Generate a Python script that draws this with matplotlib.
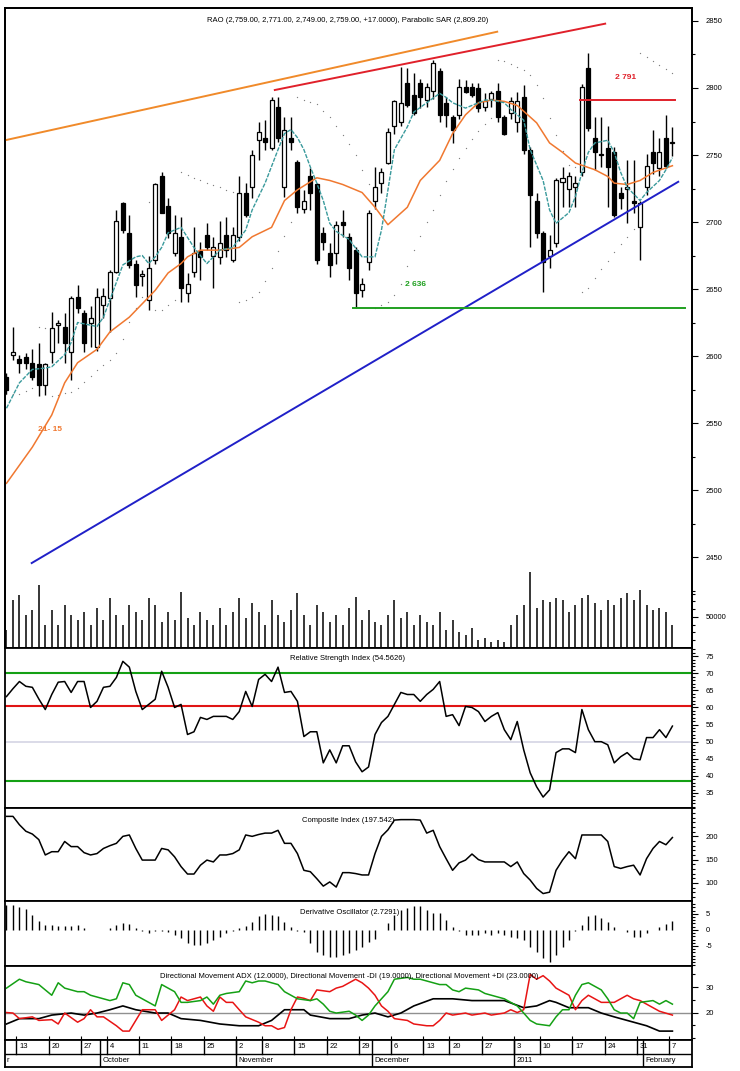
import numpy as np
import pandas as pd
import matplotlib
matplotlib.use("Agg")
import matplotlib.pyplot as plt
from matplotlib.ticker import FixedLocator, FuncFormatter

plt.rcParams['font.family'] = ['Liberation Sans Narrow', 'Liberation Sans', 'DejaVu Sans']

# ---------------- data ----------------
opens = [2584, 2601, 2598, 2599, 2595, 2594, 2578, 2603, 2623, 2622,
         2603, 2644, 2632, 2625, 2607, 2638, 2643, 2663, 2714, 2692,
         2669, 2660, 2642, 2672, 2734, 2712, 2677, 2689, 2647, 2663,
         2678, 2690, 2675, 2674, 2690, 2672, 2689, 2722, 2726, 2761,
         2763, 2755, 2786, 2726, 2763, 2745, 2710, 2734, 2728, 2692,
         2677, 2677, 2700, 2689, 2679, 2649, 2670, 2716, 2729, 2744,
         2772, 2775, 2804, 2795, 2804, 2791, 2798, 2813, 2789, 2778,
         2780, 2801, 2801, 2800, 2786, 2792, 2798, 2778, 2781, 2775,
         2793, 2754, 2716, 2692, 2675, 2684, 2730, 2725, 2726, 2737,
         2815, 2763, 2751, 2755, 2752, 2722, 2725, 2716, 2696, 2726,
         2752, 2740, 2763, 2759]
highs = [2587, 2622, 2601, 2602, 2605, 2610, 2595, 2633, 2627, 2632,
         2645, 2653, 2634, 2637, 2651, 2651, 2664, 2709, 2715, 2705,
         2672, 2664, 2675, 2729, 2737, 2718, 2705, 2704, 2662, 2696,
         2685, 2699, 2689, 2701, 2704, 2696, 2734, 2729, 2754, 2775,
         2776, 2793, 2793, 2778, 2778, 2746, 2724, 2740, 2729, 2696,
         2684, 2701, 2709, 2692, 2681, 2658, 2709, 2741, 2740, 2770,
         2791, 2816, 2815, 2811, 2807, 2804, 2821, 2815, 2793, 2780,
         2807, 2806, 2804, 2804, 2796, 2798, 2804, 2780, 2793, 2797,
         2802, 2756, 2722, 2693, 2690, 2733, 2741, 2737, 2734, 2803,
         2826, 2778, 2778, 2772, 2756, 2726, 2746, 2746, 2716, 2751,
         2769, 2763, 2780, 2771]
lows = [2572, 2597, 2587, 2590, 2582, 2570, 2571, 2595, 2610, 2595,
        2582, 2632, 2603, 2607, 2604, 2628, 2618, 2662, 2692, 2666,
        2644, 2652, 2634, 2669, 2707, 2688, 2675, 2640, 2640, 2659,
        2657, 2679, 2651, 2669, 2674, 2670, 2686, 2704, 2718, 2746,
        2754, 2754, 2760, 2719, 2754, 2707, 2707, 2709, 2669, 2679,
        2659, 2669, 2689, 2657, 2636, 2644, 2664, 2710, 2722, 2743,
        2766, 2772, 2786, 2780, 2785, 2786, 2792, 2775, 2771, 2759,
        2777, 2796, 2793, 2782, 2783, 2786, 2775, 2765, 2777, 2767,
        2751, 2681, 2688, 2648, 2666, 2681, 2711, 2711, 2711, 2734,
        2768, 2739, 2741, 2711, 2704, 2710, 2699, 2707, 2672, 2720,
        2736, 2734, 2740, 2749]
closes = [2575, 2603, 2595, 2595, 2584, 2578, 2594, 2621, 2625, 2610,
          2643, 2636, 2610, 2628, 2644, 2645, 2663, 2701, 2694, 2668,
          2653, 2661, 2666, 2728, 2707, 2692, 2692, 2651, 2654, 2677,
          2674, 2681, 2681, 2684, 2679, 2690, 2722, 2705, 2750, 2767,
          2760, 2791, 2763, 2769, 2760, 2711, 2716, 2722, 2672, 2685,
          2668, 2698, 2698, 2666, 2647, 2654, 2707, 2726, 2737, 2767,
          2790, 2789, 2787, 2781, 2793, 2801, 2819, 2780, 2780, 2769,
          2801, 2797, 2795, 2785, 2790, 2796, 2778, 2766, 2790, 2790,
          2754, 2720, 2692, 2670, 2679, 2731, 2733, 2734, 2729, 2801,
          2770, 2752, 2750, 2741, 2705, 2718, 2726, 2714, 2714, 2742,
          2744, 2752, 2742, 2759]
volume_k = [29, 77, 85, 53, 61, 102, 37, 61, 37, 69,
            53, 45, 58, 37, 65, 45, 81, 53, 37, 69,
            58, 45, 81, 69, 42, 58, 45, 90, 48, 37,
            58, 45, 37, 65, 37, 58, 81, 48, 73, 58,
            37, 77, 53, 42, 61, 89, 53, 37, 69, 58,
            42, 53, 37, 65, 82, 45, 61, 42, 37, 53,
            77, 48, 58, 37, 53, 42, 37, 58, 29, 45,
            26, 21, 32, 13, 16, 10, 13, 10, 37, 53,
            69, 123, 65, 77, 74, 81, 77, 58, 69, 81,
            85, 73, 61, 77, 69, 81, 89, 77, 94, 69,
            61, 65, 58, 37]

# moving averages (day, value)
ma_long_day = [0, 4, 7, 9, 11, 14, 16, 19, 21, 23, 25, 27, 28, 30, 33, 36, 38, 41, 43, 45,
               47, 48, 50, 52, 55, 57, 59, 62, 64, 67, 69, 71, 73, 75, 77, 79, 82, 84, 86, 88,
               91, 93, 94, 96, 98, 100, 103]
ma_long = [2505, 2532, 2556, 2580, 2595, 2605, 2618, 2629, 2639, 2649, 2662, 2669, 2674, 2679,
           2679, 2681, 2689, 2696, 2716, 2724, 2730, 2733, 2731, 2728, 2722, 2711, 2698, 2711,
           2731, 2746, 2766, 2780, 2789, 2791, 2790, 2787, 2774, 2759, 2752, 2744, 2739, 2734,
           2729, 2728, 2731, 2737, 2742]
ma_short_day = [0, 2, 4, 6, 7, 9, 10, 11, 13, 14, 15, 16, 17, 18, 20, 21, 22, 23, 24, 25,
                27, 29, 31, 33, 35, 37, 38, 40, 42, 43, 44, 45, 46, 47, 48, 49, 50, 51, 53, 55,
                57, 58, 59, 60, 62, 63, 65, 67, 68, 69, 71, 72, 74, 75, 77, 78, 80, 81, 83, 84,
                85, 87, 88, 89, 90, 91, 93, 94, 95, 96, 98, 99, 101, 102, 103]
ma_short = [2561, 2580, 2590, 2591, 2592, 2601, 2610, 2625, 2623, 2622, 2629, 2642, 2655, 2668,
            2674, 2675, 2669, 2674, 2681, 2692, 2696, 2681, 2669, 2679, 2681, 2694, 2709, 2729,
            2754, 2766, 2769, 2763, 2754, 2741, 2729, 2716, 2699, 2693, 2687, 2674, 2674, 2694,
            2724, 2754, 2771, 2782, 2789, 2796, 2793, 2789, 2785, 2787, 2791, 2791, 2789, 2784,
            2776, 2754, 2731, 2709, 2699, 2707, 2719, 2737, 2752, 2759, 2761, 2752, 2737, 2726,
            2716, 2722, 2731, 2739, 2748]

# trend lines drawn on the chart: (day, price)
orange_trend = [(-0.23, 2761), (75.9, 2842)]
red_trend = [(41.5, 2798.5), (92.6, 2848)]
blue_trend = [(3.9, 2445.5), (103.9, 2730)]
support_level = 2636
support_span = (53.6, 105.0)
resist_level = 2791
resist_span = (88.7, 103.4)

rsi = [63.2, 65.5, 67.6, 66.2, 65.9, 62.5, 59.4, 63.8, 67.4, 67.6,
       64.4, 67.6, 67.6, 60.0, 61.8, 65.9, 66.2, 68.8, 73.5, 71.8,
       64.7, 59.4, 60.9, 62.4, 70.6, 65.9, 60.0, 60.9, 52.1, 52.9,
       57.1, 56.5, 57.4, 57.4, 57.4, 56.5, 58.8, 64.7, 60.3, 68.2,
       69.7, 67.6, 71.8, 64.4, 64.7, 61.8, 51.5, 52.9, 52.9, 43.8,
       47.6, 43.8, 48.8, 48.8, 44.1, 41.2, 42.6, 52.1, 55.6, 57.4,
       60.9, 64.4, 63.8, 63.8, 61.8, 63.8, 65.3, 67.6, 57.4, 57.9,
       54.7, 60.3, 60.0, 58.8, 55.9, 57.4, 58.5, 53.5, 50.6, 55.9,
       47.6, 40.9, 36.8, 33.8, 35.9, 46.8, 47.9, 47.9, 46.8, 59.4,
       53.5, 50.0, 50.0, 49.1, 43.8, 45.6, 46.8, 45.0, 44.7, 51.2,
       51.2, 53.5, 51.2, 54.56]
rsi_levels = {'upper': 70, 'mid': 60.5, 'center': 50, 'lower': 38.5}

composite = [243, 243, 225, 211, 205, 193, 160, 167, 167, 189,
             178, 178, 165, 160, 163, 174, 180, 185, 200, 203,
             174, 149, 149, 149, 174, 171, 156, 135, 119, 119,
             138, 149, 145, 160, 160, 163, 171, 203, 200, 204,
             207, 207, 213, 185, 185, 163, 127, 124, 109, 93,
             102, 91, 122, 122, 120, 117, 117, 163, 200, 214,
             235, 236, 236, 236, 235, 207, 213, 178, 152, 127,
             143, 149, 162, 150, 145, 145, 145, 145, 135, 145,
             120, 106, 88, 77, 80, 127, 149, 167, 152, 203,
             203, 203, 203, 189, 135, 131, 135, 138, 117, 152,
             174, 189, 182, 197.5]

deriv_osc = [7.8, 7.8, 7.1, 6.5, 4.7, 2.9, 1.6, 1.6, 1.25, 1.25,
             1.25, 1.6, 0.5, 0, 0, 0, 0.5, 1.6, 2.3, 1.9,
             0.5, -0.2, -1.0, -0.3, -0.3, -0.8, -1.6, -2.6, -4.2, -4.7,
             -4.7, -4.2, -3.1, -2.1, -1.0, -0.3, 0.5, 1.25, 2.6, 4.2,
             5.0, 4.7, 4.2, 2.6, 1.0, -0.2, -0.8, -4.2, -6.8, -7.8,
             -8.3, -8.3, -7.8, -7.1, -6.3, -5.2, -3.9, -2.9, 0, 2.1,
             4.7, 6.3, 6.8, 7.5, 7.5, 6.3, 5.2, 5.2, 3.1, 1.0,
             -0.2, -1.6, -1.6, -1.6, -1.0, -1.6, -1.0, -1.6, -2.1, -2.6,
             -3.1, -5.2, -6.8, -8.9, -9.9, -7.8, -5.2, -3.1, -0.5, 1.6,
             4.4, 4.7, 3.6, 2.6, 1.0, 0, -0.8, -2.1, -2.1, -1.0,
             0, 1.0, 1.9, 2.73]

plus_di_day = [0, 2, 3, 5, 7, 8, 9, 11, 12, 13, 15, 16, 17, 18, 19, 20, 22, 23, 24, 25,
               26, 27, 28, 30, 31, 32, 33, 34, 36, 37, 38, 39, 40, 42, 43, 44, 45, 47, 48, 49,
               50, 51, 53, 54, 55, 56, 57, 58, 59, 60, 62, 63, 64, 65, 66, 67, 68, 69, 70, 71,
               73, 74, 75, 77, 78, 79, 80, 81, 82, 84, 85, 86, 87, 88, 89, 90, 91, 92, 93, 94,
               95, 96, 97, 98, 100, 101, 102, 103]
plus_di = [29.6, 33.1, 32.1, 31, 26.8, 31.7, 29.6, 28.2, 28.2, 26.8, 25.4, 24.7, 25.4, 31.7,
           31, 26.8, 24, 22.6, 31, 29.6, 28.2, 24, 24, 24.7, 26.1, 23.3, 26.8, 27.5, 28.2,
           32.4, 31.7, 32.4, 32.4, 31, 28.2, 26.8, 25.4, 24.7, 25.4, 23.3, 20.5, 19.8, 20.5,
           19, 16.9, 19, 22.6, 25.4, 28.2, 33.1, 33.8, 33.1, 33.1, 32.4, 31.7, 31, 31, 28.9,
           28.2, 29.6, 28.9, 27.5, 26.8, 25.4, 24, 22.6, 19.8, 16.9, 15.5, 14.8, 18.3, 21.1,
           21.1, 26.8, 31, 31.7, 30.3, 28.9, 25.4, 21.1, 19.8, 19.8, 17.6, 24, 24.7, 23.3,
           24.7, 23.3]
minus_di_day = [0, 1, 2, 4, 5, 7, 8, 9, 11, 12, 13, 14, 15, 17, 18, 19, 20, 21, 23, 24,
                25, 26, 27, 28, 30, 31, 32, 33, 34, 35, 36, 37, 39, 40, 41, 42, 43, 44, 45, 46,
                47, 48, 50, 51, 52, 54, 55, 56, 57, 58, 59, 60, 62, 63, 65, 66, 67, 68, 69, 71,
                72, 74, 75, 77, 78, 79, 80, 81, 82, 83, 84, 85, 86, 87, 88, 89, 90, 91, 92, 93,
                94, 96, 97, 98, 99, 100, 101, 103]
minus_di = [20, 19.8, 17.6, 18.3, 16.9, 17.2, 15.5, 19.8, 16.2, 17.6, 21.1, 18.3, 18.3, 14.8,
            12.7, 12.7, 16.9, 21.1, 21.1, 16.9, 19, 21.1, 26.1, 24.7, 26.1, 22.6, 20.5, 26.1,
            24, 24, 21.1, 18.3, 16.2, 14.8, 14.8, 13.4, 14.1, 21.1, 26.1, 25.6, 24.7, 28.9,
            28.2, 29.6, 30.3, 33.1, 31.7, 29.6, 26.8, 22.6, 20.5, 17.6, 16.9, 15.5, 14.8, 14.8,
            16.9, 19.8, 19, 19.8, 19, 19.8, 19, 19.8, 21.1, 20, 21.1, 35, 33.1, 34.5, 32.4,
            29.6, 28.2, 26.8, 21.1, 24.7, 26.8, 25.4, 24, 24, 24, 26.8, 25.4, 24.7, 23.3, 21.9,
            20.5, 19]
adx_day = [0, 2, 5, 7, 10, 12, 14, 16, 18, 20, 23, 25, 27, 30, 33, 36, 39, 41, 43, 46,
           47, 50, 53, 55, 57, 59, 61, 63, 66, 69, 72, 77, 80, 82, 84, 85, 87, 90, 92, 94,
           97, 99, 101, 103]
adx = [15.5, 17.6, 17.6, 19, 19.8, 19, 19.8, 21.1, 22.6, 21.1, 19.8, 19.8, 17.6, 16.9, 15.5,
       14.8, 14.8, 16.9, 21.1, 21.1, 19, 17.6, 17.6, 19, 19.8, 18.3, 19.8, 22.6, 25.4, 25.4,
       24.7, 24.7, 21.9, 22.6, 24.7, 24, 21.9, 21.9, 19.8, 18.3, 16.2, 14.8, 12.7, 12.7]

holidays = ['2010-09-30', '2010-11-01', '2010-12-16', '2011-01-07']
dates = pd.bdate_range('2010-09-09', '2011-02-07')
dates = dates[~dates.isin(pd.to_datetime(holidays))]


def parabolic_sar(hi, lo, step=0.02, amax=0.2):
    n = len(hi)
    sar = np.zeros(n)
    up, af, ep = True, step, hi[0]
    sar[0] = lo[0]
    for i in range(1, n):
        s = sar[i - 1] + af * (ep - sar[i - 1])
        if up:
            s = min(s, lo[i - 1], lo[max(i - 2, 0)])
            if lo[i] < s:
                up, s, ep, af = False, ep, lo[i], step
            elif hi[i] > ep:
                ep, af = hi[i], min(af + step, amax)
        else:
            s = max(s, hi[i - 1], hi[max(i - 2, 0)])
            if hi[i] > s:
                up, s, ep, af = True, ep, hi[i], step
            elif lo[i] < ep:
                ep, af = lo[i], min(af + step, amax)
        sar[i] = s
    return sar


# ---------------- layout ----------------
W, H = 740, 1071
fig = plt.figure(figsize=(W / 100, H / 100), dpi=100)
xl = (-0.23, 106.03)
X0, X1 = 5, 692
FS = 5.5


def rect(y0, y1):
    return [X0 / W, 1 - y1 / H, (X1 - X0) / W, (y1 - y0) / H]


def right_axis(a, major, minor):
    a.set_xlim(xl)
    a.yaxis.tick_right()
    a.yaxis.set_label_position('right')
    a.yaxis.set_major_locator(FixedLocator(list(major)))
    a.yaxis.set_minor_locator(FixedLocator(list(minor)))
    a.yaxis.set_major_formatter(FuncFormatter(lambda v, p: f"{v:.0f}"))
    a.tick_params(axis='y', which='both', left=False, labelleft=False,
                  right=True, labelright=True)
    a.tick_params(axis='y', which='major', direction='out', length=4, width=0.8,
                  labelsize=FS, pad=6)
    a.tick_params(axis='y', which='minor', direction='out', length=2.5, width=0.8)
    a.tick_params(axis='x', which='both', bottom=False, top=False, labelbottom=False)
    for s in a.spines.values():
        s.set_linewidth(1.3)


def ftext(px, py, s, **kw):
    fig.text(px / W, 1 - py / H, s, fontsize=FS, ha='center', va='center', **kw)


n = len(closes)
idx = np.arange(n)
o, h, l, c = map(np.array, (opens, highs, lows, closes))

# ---- price panel (volume shares it on a twin scale) ----
ax = fig.add_axes(rect(8, 648))
axv = ax.twinx()
ax.set_ylim(2382.1, 2859.7)
right_axis(ax, range(2450, 2851, 50), range(2425, 2851, 25))
axv.set_ylim(0, 640 / 31 * 50000)
right_axis(axv, [50000], [12500, 25000, 37500, 62500, 75000, 87500])
axv.vlines(idx, 0, np.array(volume_k) * 1000, color='black', lw=1.1)

ax.vlines(idx, l, h, color='black', lw=1.0, zorder=3)
up = c >= o
body = np.maximum(np.abs(c - o), 0.8)
ax.bar(idx[up], body[up], bottom=np.minimum(o, c)[up], width=0.62,
       facecolor='white', edgecolor='black', lw=0.9, zorder=4)
ax.bar(idx[~up], body[~up], bottom=np.minimum(o, c)[~up], width=0.62,
       facecolor='black', edgecolor='black', lw=0.9, zorder=4)

ax.plot(ma_long_day, ma_long, color='#f07830', lw=1.1, zorder=5)
ax.plot(ma_short_day, ma_short, color='#3a9a9c', lw=1.0, ls=(0, (3, 1)), zorder=5)

sar = parabolic_sar(h, l)
ax.scatter(idx, sar, s=0.9, color='#808080', zorder=2, linewidths=0)

for line, col in ((orange_trend, '#f08a2a'), (red_trend, '#e0202a'), (blue_trend, '#2020c8')):
    ax.plot([line[0][0], line[1][0]], [line[0][1], line[1][1]], color=col, lw=1.4, zorder=6)
ax.plot(support_span, [support_level] * 2, color='#20a020', lw=1.4, zorder=6)
ax.plot(resist_span, [resist_level] * 2, color='#e0202a', lw=1.4, zorder=6)
ax.text(63.3, 2653, '2 636', color='#20a020', fontsize=6, ha='center', va='center', weight='bold')
ax.text(95.7, 2807.5, '2 791', color='#e0202a', fontsize=6, ha='center', va='center', weight='bold')
ax.text(6.7, 2545, '21- 15', color='#f07830', fontsize=6, ha='center', va='center', weight='bold')

ftext(348, 20, 'RAO (2,759.00, 2,771.00, 2,749.00, 2,759.00, +17.0000), Parabolic SAR (2,809.20)')

# ---- RSI ----
ar = fig.add_axes(rect(648, 808))
ar.set_ylim(30.6, 77.4)
right_axis(ar, range(35, 76, 5), range(31, 78))
ar.axhline(rsi_levels['center'], color='#d4d4e4', lw=1.2)
ar.axhline(rsi_levels['upper'], color='#14a014', lw=1.5)
ar.axhline(rsi_levels['lower'], color='#14a014', lw=1.5)
ar.axhline(rsi_levels['mid'], color='#e01414', lw=1.5)
ar.plot(idx, rsi, color='black', lw=1.1)
ftext(348, 658, 'Relative Strength Index (54.5626)')

# ---- Composite ----
acp = fig.add_axes(rect(808, 901))
acp.set_ylim(61, 261)
right_axis(acp, [100, 150, 200], range(70, 261, 10))
acp.plot(idx, composite, color='black', lw=1.1)
ftext(348, 820, 'Composite Index (197.542)')

# ---- Derivative oscillator ----
ado = fig.add_axes(rect(901, 966))
ado.set_ylim(-11.25, 9)
right_axis(ado, [-5, 0, 5], range(-11, 9))
ado.vlines(idx, 0, deriv_osc, color='black', lw=1.0)
ftext(350, 912, 'Derivative Oscillator (2.7291)')

# ---- Directional movement ----
adm = fig.add_axes(rect(966, 1040))
adm.set_ylim(9.2, 38.3)
right_axis(adm, [20, 30], [10, 15, 25, 35])
adm.axhline(20, color='#909090', lw=1.0)
adm.plot(adx_day, adx, color='black', lw=1.2)
adm.plot(minus_di_day, minus_di, color='#e81414', lw=1.1)
adm.plot(plus_di_day, plus_di, color='#14a014', lw=1.1)
ftext(349, 976, 'Directional Movement ADX (12.0000), Directional Movement -DI (19.0000), '
      'Directional Movement +DI (23.0000)')

# ---- date axis ----
wk = np.array([d.isocalendar()[1] for d in dates])
week_start = [i for i in range(1, n) if wk[i] != wk[i - 1]]
month_start = [i for i in range(1, n) if dates[i].month != dates[i - 1].month]

adm.set_xticks([i - 0.5 for i in week_start])
adm.tick_params(axis='x', which='major', bottom=True, direction='in', length=3, width=0.8,
                labelbottom=False)

ad = fig.add_axes(rect(1040, 1067))
ad.set_xlim(xl)
ad.set_ylim(0, 2)
ad.set_xticks([])
ad.set_yticks([])
for s in ad.spines.values():
    s.set_linewidth(1.3)
ad.axhline(1, color='black', lw=1.0)
for i in week_start:
    ad.plot([i - 0.5, i - 0.5], [1, 2], color='black', lw=1.0)
    ad.text(i - 0.5 + 0.45, 1.5, str(dates[i].day), fontsize=FS, ha='left', va='center')
for i in month_start:
    ad.plot([i - 0.5, i - 0.5], [0, 2], color='black', lw=1.0)
    name = str(dates[i].year) if dates[i].month == 1 else dates[i].strftime('%B')
    ad.text(i - 0.5 + 0.35, 0.5, name, fontsize=FS, ha='left', va='center')
# only the tail of "September" is visible at the left edge of the reference
ad.text(0.0, 0.5, dates[0].strftime('%B')[-1], fontsize=FS, ha='left', va='center')

fig.savefig('out.png', dpi=100)
